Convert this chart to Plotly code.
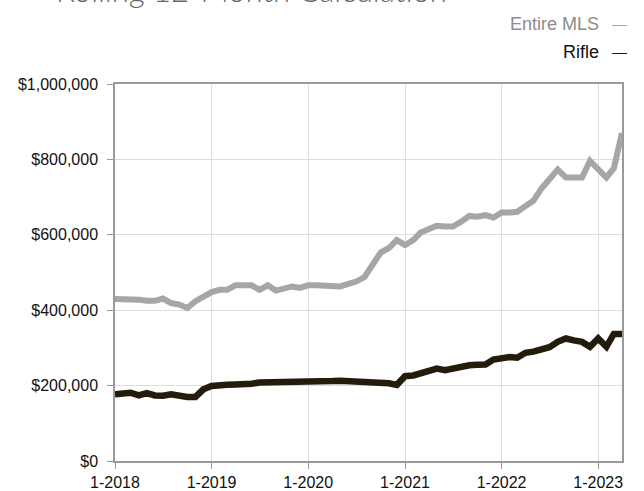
import plotly.graph_objects as go
import pandas as pd

# Monthly periods, Jan 2018 through Apr 2023
months = pd.date_range("2018-01-01", "2023-04-01", freq="MS")

# Rolling 12-month median sales price (USD)
entire_mls = [
    430000, 430000, 428000, 428000, 425000, 425000, 431000, 419000, 415000, 406000,
    424000, 437000, 448000, 454000, 454000, 466000, 466000, 466000, 454000, 466000,
    452000, 459000, 463000, 459000, 466000, 466000, 466000, 463000, 463000, 470000,
    476000, 488000, 525000, 553000, 565000, 586000, 573000, 586000, 606000, 617000,
    624000, 622000, 622000, 635000, 650000, 648000, 652000, 646000, 659000, 659000,
    661000, 676000, 690000, 723000, 750000, 773000, 752000, 752000, 752000, 796000,
    776000, 752000, 776000, 870000,
]
rifle = [
    177000, 179000, 181000, 174000, 180000, 174000, 173000, 177000, 173000, 170000,
    170000, 190000, 199000, 202000, 202000, 203000, 203000, 205000, 208000, 208000,
    210000, 212000, 212000, 212000, 212000, 212000, 212000, 212000, 213000, 212000,
    212000, 212000, 211000, 209000, 206000, 202000, 225000, 227000, 232000, 239000,
    245000, 241000, 245000, 252000, 254000, 255000, 256000, 269000, 272000, 276000,
    274000, 287000, 290000, 296000, 302000, 316000, 325000, 320000, 316000, 303000,
    325000, 303000, 337000, 337000,
]

year_ticks = pd.date_range("2018-01-01", "2023-01-01", freq="YS")
year_labels = ["1-2018", "1-2019", "1-2020", "1-2021", "1-2022", "1-2023"]
price_ticks = [0, 200000, 400000, 600000, 800000, 1000000]

FONT = "Liberation Sans, Arial, Helvetica, sans-serif"
MLS_COLOR = "#a6a6a6"
RIFLE_COLOR = "#231c0d"

fig = go.Figure()
fig.add_trace(go.Scatter(
    x=months, y=entire_mls, mode="lines", name="Entire MLS",
    line=dict(color=MLS_COLOR, width=6),
))
fig.add_trace(go.Scatter(
    x=months, y=rifle, mode="lines", name="Rifle",
    line=dict(color=RIFLE_COLOR, width=6.5),
))

fig.update_layout(
    width=644, height=491,
    margin=dict(l=115, r=22, t=84, b=30),
    paper_bgcolor="white", plot_bgcolor="white",
    showlegend=False,
    font=dict(family=FONT, size=16, color="#111"),
)

fig.update_xaxes(
    range=["2018-01-01", "2023-04-01"],
    tickvals=year_ticks, ticktext=year_labels,
    showgrid=True, gridcolor="#dedede", gridwidth=1,
    showline=True, linecolor="#9a9a9a", linewidth=1.5, mirror=True,
    ticks="outside", ticklen=6, tickcolor="#9a9a9a",
    tickfont=dict(size=16, color="#111"),
    automargin=False,
    zeroline=False,
)
fig.update_yaxes(
    range=[0, 1000000],
    tickvals=price_ticks, tickformat="$,.0f",
    showgrid=True, gridcolor="#dedede", gridwidth=1,
    showline=True, linecolor="#9a9a9a", linewidth=1.5, mirror=True,
    ticks="outside", ticklen=6, tickcolor="#9a9a9a",
    tickfont=dict(size=16, color="#111"),
    ticklabelstandoff=6,
    automargin=False,
    zeroline=False,
)

# Title (runs off the top edge of the page)
fig.add_annotation(
    text="Rolling 12-Month Calculation",
    xref="paper", yref="paper", x=-0.12, y=1.25,
    xanchor="left", yanchor="middle", showarrow=False,
    font=dict(family="Lato, Open Sans, sans-serif", size=31, color="#666", weight=300),
)

# Legend entries, label then line swatch on the right
legend_items = [("Entire MLS", "#8c8c8c", MLS_COLOR, 1.16), ("Rifle", "#111", RIFLE_COLOR, 1.086)]
for label, text_color, swatch_color, ypos in legend_items:
    fig.add_annotation(
        text=label, xref="paper", yref="paper", x=0.958, y=ypos,
        xanchor="right", yanchor="middle", showarrow=False,
        font=dict(family=FONT, size=18, color=text_color),
    )
    fig.add_annotation(
        text="\u2014", xref="paper", yref="paper", x=1.014, y=ypos,
        xanchor="right", yanchor="middle", showarrow=False,
        font=dict(family=FONT, size=15, color=swatch_color),
    )

fig.write_html("out.html")
